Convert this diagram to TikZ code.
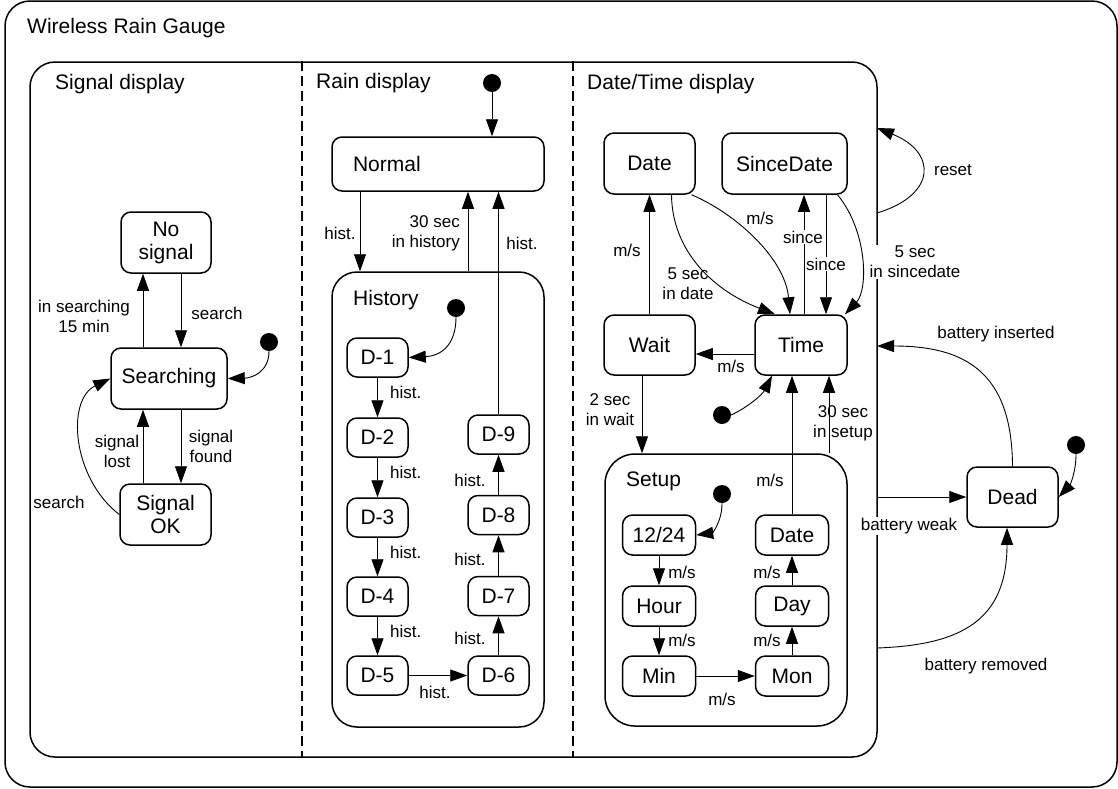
\documentclass[tikz,border=0pt]{standalone}
\usepackage{fontspec}
\setmainfont{Liberation Sans}
\usetikzlibrary{arrows.meta}
\begin{document}
\begin{tikzpicture}[x=1pt,y=-1pt,
  state/.style={draw, line width=1.5pt, rounded corners=10pt, font=\fontsize{21}{23}\selectfont, align=center, inner sep=0pt},
  dbox/.style={state, minimum width=61pt, minimum height=39pt},
  sbox/.style={state, minimum width=73pt, minimum height=40pt},
  cont/.style={draw, line width=1.5pt, inner sep=0pt},
  ttl/.style={anchor=base west, font=\fontsize{21}{23}\selectfont, inner sep=0pt},
  lbl/.style={font=\fontsize{17}{20}\selectfont, align=center, inner sep=1pt},
  wlbl/.style={lbl, fill=white},
  tr/.style={-{Triangle[length=17pt,width=12pt]}, line width=0.9pt},
  init/.style={circle, fill=black, minimum size=18pt, inner sep=0pt},
  divider/.style={line width=1.2pt, dash pattern=on 10pt off 5pt},
]
\useasboundingbox (0,0) rectangle (1118,788);

% containers
\node[cont, rounded corners=25pt, minimum width=1112pt, minimum height=786pt] (outer) at (561,394) {};
\node[cont, rounded corners=25pt, minimum width=847pt, minimum height=695pt] (main) at (453.5,409.5) {};
\node[cont, rounded corners=25pt, minimum width=212pt, minimum height=455pt] (history) at (438,499.5) {};
\node[cont, rounded corners=30pt, minimum width=242pt, minimum height=272pt] (setup) at (726,590) {};

\coordinate (dv1) at (302,0);
\coordinate (dv2) at (573,0);
\draw[divider] (main.north -| dv1) -- (main.south -| dv1);
\draw[divider] (main.north -| dv2) -- (main.south -| dv2);

% titles
\node[ttl] (t0) at (27,33) {Wireless Rain Gauge};
\node[ttl] (t1) at (55,89) {Signal display};
\node[ttl] (t2) at (316,88) {Rain display};
\node[ttl] (t3) at (587,89) {Date/Time display};
\node[ttl] (t4) at (353,305) {History};
\node[ttl] (t5) at (626,486) {Setup};

% Signal display states
\node[state, minimum width=90pt, minimum height=61pt] (nosig) at (166,242.5) {No\\signal};
\node[state, minimum width=116pt, minimum height=61pt] (search) at (169,378.5) {Searching};
\node[state, minimum width=91pt, minimum height=61pt] (sigok) at (165.5,514.5) {Signal\\OK};
\node[init] (sdot) at (269,342) {};

% Rain display states
\node[init] (rdot) at (492,83) {};
\node[state, minimum width=212pt, minimum height=54pt, inner xsep=21pt, text width=170pt, align=left] (normal) at (438,164) {Normal};
\node[init] (hdot) at (456,308) {};
\node[dbox] (d1) at (377.5,357.5) {D-1};
\node[dbox] (d2) at (377.5,437.5) {D-2};
\node[dbox] (d3) at (377.5,517.5) {D-3};
\node[dbox] (d4) at (377.5,596.5) {D-4};
\node[dbox] (d5) at (377.5,675.5) {D-5};
\node[dbox] (d6) at (498.5,675.5) {D-6};
\node[dbox] (d7) at (498.5,596) {D-7};
\node[dbox] (d8) at (498.5,515) {D-8};
\node[dbox] (d9) at (498.5,434.5) {D-9};

% Date/Time display states
\node[state, minimum width=91pt, minimum height=61pt] (date) at (649.5,163.5) {Date};
\node[state, minimum width=125pt, minimum height=61pt] (since) at (784.5,163.5) {SinceDate};
\node[state, minimum width=91pt, minimum height=60pt] (wait) at (649.5,345) {Wait};
\node[state, minimum width=92pt, minimum height=60pt] (time) at (801,345) {Time};
\node[init] (tdot) at (722,415) {};
\node[init] (stdot) at (722,494) {};
\node[sbox] (h1224) at (659,535) {12/24};
\node[sbox] (sdate) at (792,535) {Date};
\node[sbox] (hour) at (659,606) {Hour};
\node[sbox] (day) at (792,606) {Day};
\node[sbox] (min) at (659,676) {Min};
\node[sbox] (mon) at (792,676) {Mon};

% Dead
\node[state, minimum width=91pt, minimum height=60pt] (dead) at (1012.5,497) {Dead};
\node[init] (ddot) at (1076,445) {};

% helper columns / rows
\coordinate (c143) at (143,0);
\coordinate (c181) at (181,0);
\coordinate (c360) at (360,0);
\coordinate (c468) at (468,0);
\coordinate (c804) at (804,0);
\coordinate (c826) at (826,0);
\coordinate (c642) at (642,0);
\coordinate (c829) at (829,0);
\coordinate (c772) at (772,0);
\coordinate (c1007) at (1007,0);
\coordinate (r354) at (0,354);
\coordinate (rs1) at (877,213);
\coordinate (rs2) at (877,128);
\coordinate (bw) at (877,497);
\coordinate (bi) at (877,346);
\coordinate (br) at (877,648);

% Signal display transitions
\draw[tr] (search.north -| c143) -- (nosig.south -| c143);
\draw[tr] (nosig.south -| c181) -- (search.north -| c181);
\draw[tr] (search.south -| c181) -- (sigok.north -| c181);
\draw[tr] (sigok.north -| c143) -- (search.south -| c143);
\draw[tr] (sigok.west) .. controls (72,478) and (66,400) .. (search.west);
\draw[tr] (sdot.south) .. controls (269,372) and (252,378) .. (search.east);

% Rain display transitions
\draw[tr] (rdot) -- (rdot |- normal.north);
\draw[tr] (normal.south -| c360) -- (history.north -| c360);
\draw[tr] (history.north -| c468) -- (normal.south -| c468);
\draw[tr] (d9.north) -- (normal.south -| d9.north);
\draw[tr] (hdot.south) .. controls (456,346) and (440,356) .. (d1.east);
\draw[tr] (d1) -- (d2);
\draw[tr] (d2) -- (d3);
\draw[tr] (d3) -- (d4);
\draw[tr] (d4) -- (d5);
\draw[tr] (d5) -- (d6);
\draw[tr] (d6) -- (d7);
\draw[tr] (d7) -- (d8);
\draw[tr] (d8) -- (d9);

% Date/Time transitions
\draw[tr] (wait) -- (date);
\draw[tr] ([xshift=22pt]date.south) .. controls (672,250) and (712,290) .. ([xshift=-26pt]time.north);
\draw[tr] ([xshift=42pt]date.south) .. controls (735,213) and (785,258) .. ([xshift=-11pt]time.north);
\draw[tr] (time.north -| c804) -- (since.south -| c804);
\draw[tr] (since.south -| c826) -- (time.north -| c826);
\draw[tr] ([xshift=53pt]since.south) .. controls (868,232) and (868,290) .. ([xshift=44pt]time.north);
\draw[tr] (time.west |- r354) -- (wait.east |- r354);
\draw[tr] (wait.south -| c642) -- (setup.north -| c642);
\draw[tr] (tdot.east) .. controls (748,407) and (762,395) .. (time.south -| c772);
\draw[tr] (setup.north -| c829) -- (time.south -| c829);
\draw[tr] (sdate.north) -- (time.south -| sdate.north);
\draw[tr] (stdot.south) .. controls (722,522) and (712,533) .. (h1224.east);
\draw[tr] (h1224) -- (hour);
\draw[tr] (hour) -- (min);
\draw[tr] (min) -- (mon);
\draw[tr] (mon) -- (day);
\draw[tr] (day) -- (sdate);

% outer transitions
\draw[tr] (rs1) .. controls (937,195) and (937,152) .. (rs2);
\draw[tr] (bw) -- (dead.west);
\draw[tr] (dead.north) .. controls (1012,372) and (965,346) .. (bi);
\draw[tr] (br) .. controls (962,645) and (1007,620) .. (dead.south -| c1007);
\draw[tr] (ddot.south) .. controls (1076,472) and (1070,485) .. (dead.east);

% labels
\node[lbl] (l1) at (84,316) {in searching\\15 min};
\node[lbl] (l2) at (217,313) {search};
\node[lbl] (l3) at (211,446) {signal\\found};
\node[lbl] (l4) at (117,451) {signal\\lost};
\node[lbl] (l5) at (59,502) {search};

\node[lbl] (l6) at (340,233) {hist.};
\node[lbl, align=right, anchor=east] (l7) at (461,233) {30 sec\\in history};
\node[lbl] (l8) at (522,243) {hist.};
\node[lbl, anchor=west] (l9) at (389,392) {hist.};
\node[lbl, anchor=west] (l10) at (389,472) {hist.};
\node[lbl, anchor=west] (l11) at (389,552) {hist.};
\node[lbl, anchor=west] (l12) at (389,631) {hist.};
\node[lbl] (l13) at (435,692) {hist.};
\node[lbl] (l14) at (470,638) {hist.};
\node[lbl] (l15) at (470,559) {hist.};
\node[lbl] (l16) at (470,480) {hist.};

\node[lbl] (l17) at (627,250) {m/s};
\node[lbl] (l18) at (760,218) {m/s};
\node[lbl] (l19) at (688,284) {5 sec\\in date};
\node[wlbl] (l20) at (803,237) {since};
\node[wlbl] (l21) at (826,264) {since};
\node[wlbl] (l22) at (915,262) {5 sec\\in sincedate};
\node[lbl] (l23) at (731,366) {m/s};
\node[lbl] (l24) at (610,410) {2 sec\\in wait};
\node[lbl] (l25) at (843,423) {30 sec\\in setup};
\node[lbl] (l26) at (770,480) {m/s};
\node[lbl] (l27) at (682,572) {m/s};
\node[lbl] (l28) at (682,640) {m/s};
\node[lbl] (l29) at (767,572) {m/s};
\node[lbl] (l30) at (767,640) {m/s};
\node[lbl] (l31) at (722,699) {m/s};

\node[lbl] (l32) at (953,170) {reset};
\node[lbl] (l33) at (996,334) {battery inserted};
\node[wlbl] (l34) at (909,526) {battery weak};
\node[lbl] (l35) at (986,666) {battery removed};
\end{tikzpicture}
\end{document}
